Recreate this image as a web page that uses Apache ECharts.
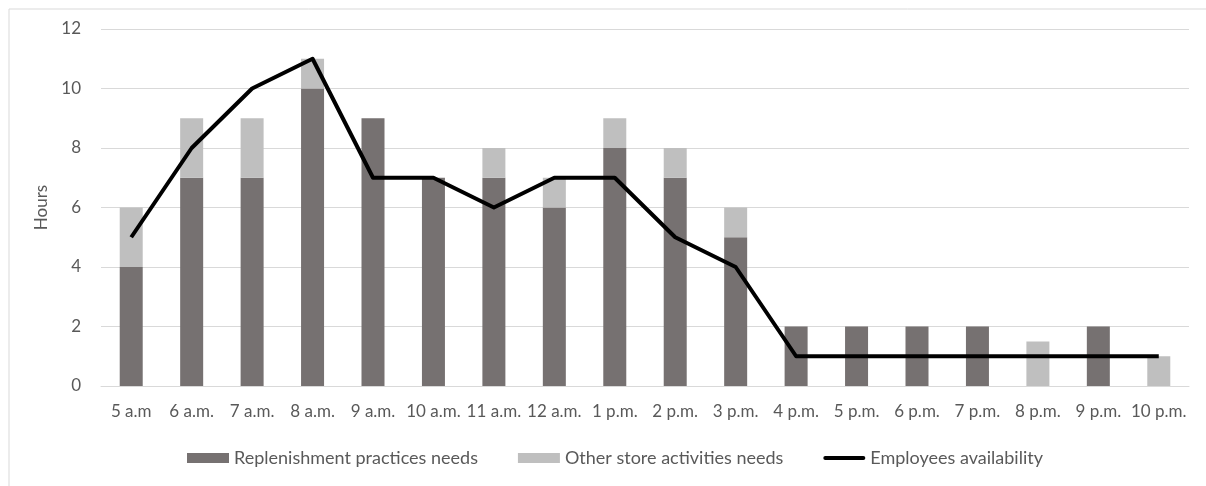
<!DOCTYPE html>
<html>
<head>
<meta charset="utf-8">
<script src="https://cdn.jsdelivr.net/npm/echarts@6/dist/echarts.min.js"></script>
<style>
  html, body { margin: 0; padding: 0; background: #fff; }
  #chart { width: 1206px; height: 486px; }
</style>
</head>
<body>
<div id="chart"></div>
<script>
// Hourly staffing: task needs (stacked bars) vs. employees available (line)
const hours = ['5 a.m', '6 a.m.', '7 a.m.', '8 a.m.', '9 a.m.', '10 a.m.', '11 a.m.', '12 a.m.', '1 p.m.', '2 p.m.', '3 p.m.', '4 p.m.', '5 p.m.', '6 p.m.', '7 p.m.', '8 p.m.', '9 p.m.', '10 p.m.'];
const replenishmentNeeds = [4, 7, 7, 10, 9, 7, 7, 6, 8, 7, 5, 2, 2, 2, 2, 0, 2, 0];
const otherActivitiesNeeds = [2, 2, 2, 1, 0, 0, 1, 1, 1, 1, 1, 0, 0, 0, 0, 1.5, 0, 1];
const employeesAvailable = [5, 8, 10, 11, 7, 7, 6, 7, 7, 5, 4, 1, 1, 1, 1, 1, 1, 1];
const yTicks = { min: 0, max: 12, interval: 2 };

const FONT = 'Lato';
const TEXT = '#595959';

// thin horizontal stroke used as the legend key of the line series
const LINE_KEY = 'path://M0,0 L0,0 M1.5,3 L40.5,3 A1.5,1.5 0 0 1 40.5,7 L1.5,7 A1.5,1.5 0 0 1 1.5,3 Z M42,10 L42,10';

const chart = echarts.init(document.getElementById('chart'), null, { renderer: 'canvas' });
chart.setOption({
  animation: false,
  backgroundColor: '#ffffff',
  textStyle: { fontFamily: FONT },
  graphic: [{
    type: 'rect',
    left: 6.5, top: 6.5,
    shape: { width: 1220, height: 500 },
    style: { fill: 'none', stroke: '#d9d9d9', lineWidth: 1 },
    silent: true
  }],
  grid: { left: 101, right: 17, top: 29, bottom: 100 },
  legend: {
    top: 449,
    left: 187,
    padding: 0,
    itemWidth: 42,
    itemHeight: 10,
    itemGap: 40,
    textStyle: { color: TEXT, fontSize: 18, fontFamily: FONT },
    data: [
      { name: 'Replenishment practices needs', icon: 'rect' },
      { name: 'Other store activities needs', icon: 'rect' },
      { name: 'Employees availability', icon: LINE_KEY }
    ]
  },
  xAxis: {
    type: 'category',
    data: hours,
    axisLine: { lineStyle: { color: '#d9d9d9', width: 1 } },
    axisTick: { show: false },
    axisLabel: { color: TEXT, fontSize: 17, fontFamily: FONT, margin: 17, interval: 0 }
  },
  yAxis: {
    type: 'value',
    min: yTicks.min, max: yTicks.max, interval: yTicks.interval,
    name: 'Hours',
    nameLocation: 'middle',
    nameGap: 40,
    nameRotate: 90,
    nameTextStyle: { color: TEXT, fontSize: 17, fontFamily: FONT },
    axisLine: { show: false },
    axisTick: { show: false },
    axisLabel: { color: TEXT, fontSize: 17, fontFamily: FONT, margin: 20 },
    splitLine: { lineStyle: { color: '#d9d9d9', width: 1 } }
  },
  series: [
    {
      name: 'Replenishment practices needs',
      type: 'bar',
      stack: 'needs',
      barWidth: 23,
      itemStyle: { color: '#767171' },
      data: replenishmentNeeds
    },
    {
      name: 'Other store activities needs',
      type: 'bar',
      stack: 'needs',
      barWidth: 23,
      itemStyle: { color: '#bfbfbf' },
      data: otherActivitiesNeeds
    },
    {
      name: 'Employees availability',
      type: 'line',
      symbol: 'none',
      lineStyle: { color: '#000000', width: 4, join: 'round' },
      itemStyle: { color: '#000000' },
      z: 5,
      data: employeesAvailable
    }
  ]
});
</script>
</body>
</html>
